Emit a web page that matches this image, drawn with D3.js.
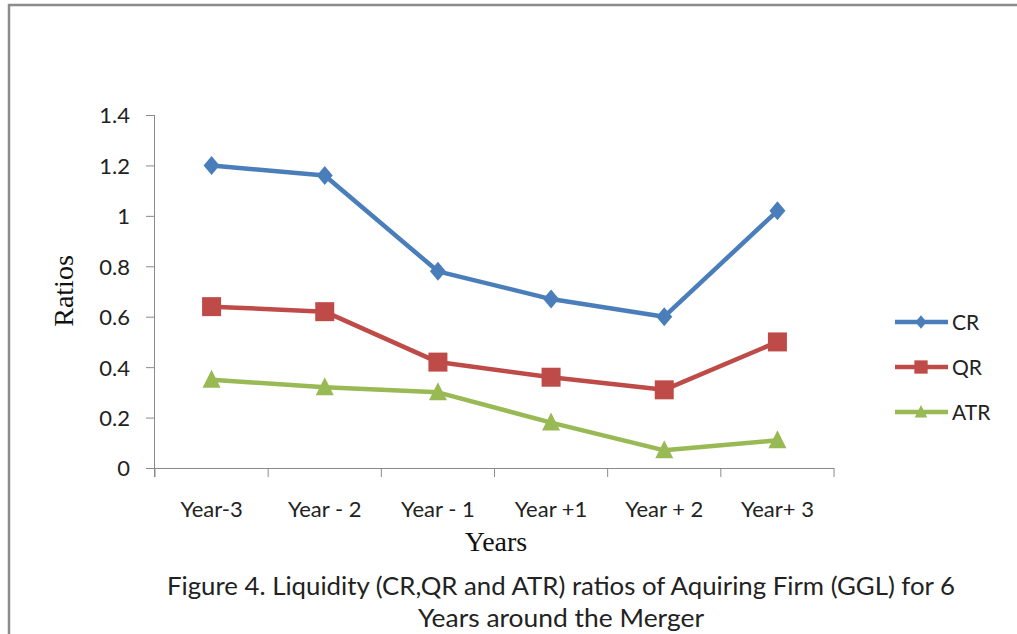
<!DOCTYPE html>
<html>
<head>
<meta charset="utf-8">
<script src="https://cdn.jsdelivr.net/npm/d3@7"></script>
<style>
body { margin: 0; background: #fff; }
svg { display: block; }
</style>
</head>
<body>
<div id="chart"></div>
<script>
var years = ["Year-3", "Year - 2", "Year - 1", "Year +1", "Year + 2", "Year+ 3"];
var cr = [1.2, 1.16, 0.78, 0.67, 0.60, 1.02];
var qr = [0.64, 0.62, 0.42, 0.36, 0.31, 0.50];
var atr = [0.35, 0.32, 0.30, 0.18, 0.07, 0.11];
var yTicks = [0, 0.2, 0.4, 0.6, 0.8, 1, 1.2, 1.4];

// marker shapes (half width, half height)
function marker(kind, s) {
  var p = d3.path();
  if (kind == "diamond") {
    p.moveTo(0, -9.5 * s); p.lineTo(8 * s, 0); p.lineTo(0, 9.5 * s); p.lineTo(-8 * s, 0);
  } else if (kind == "square") {
    p.rect(-9.5 * s, -9.5 * s, 19 * s, 19 * s);
  } else {
    p.moveTo(0, -10 * s); p.lineTo(9 * s, 8 * s); p.lineTo(-9 * s, 8 * s);
  }
  p.closePath();
  return p.toString();
}

var series = [
  {name: "CR", values: cr, color: "#4a7ebb", shape: "diamond"},
  {name: "QR", values: qr, color: "#be4b48", shape: "square"},
  {name: "ATR", values: atr, color: "#98b954", shape: "triangle"}
];

var W = 1017, H = 634;
var margin = {top: 115, left: 155},
    width = 679, height = 353;
var font = "Lato, 'Liberation Sans', sans-serif";

var svg = d3.select("#chart").append("svg")
            .attr("width", W)
            .attr("height", H);

// outer frame
svg.append("rect")
   .attr("x", 9).attr("y", 5)
   .attr("width", W + 10).attr("height", H + 10)
   .attr("fill", "none")
   .attr("stroke", "#8c8c8c")
   .attr("stroke-width", 2.5);

var chart = svg.append("g")
               .attr("transform", "translate(" + margin.left + "," + margin.top + ")");

var x = d3.scaleBand().domain(years).range([0, width]);
var y = d3.scaleLinear().domain([0, 1.4]).range([height, 0]);

var yAxis = d3.axisLeft(y).tickValues(yTicks).tickSize(9).tickPadding(16)
              .tickFormat(function(d) { return String(+d.toFixed(1)); });
var gy = chart.append("g").call(yAxis);
gy.select(".domain").attr("d", "M-0.5,0V" + (height + 9));
gy.selectAll("line, path").attr("stroke", "#8a8a8a");
gy.selectAll("text").attr("dy", "0.36em")
  .style("font-family", font).style("font-size", "22px").attr("fill", "#222");

var xAxis = d3.axisBottom(x).tickSize(0).tickPadding(33);
var gx = chart.append("g").attr("transform", "translate(0," + height + ")").call(xAxis);
gx.select(".domain").attr("d", "M0,0.5H" + width).attr("stroke", "#8a8a8a");
gx.selectAll("text").style("font-family", font).style("font-size", "22px").attr("fill", "#222");
// tick marks between categories
gx.selectAll(".sep").data(d3.range(years.length + 1)).enter()
  .append("line").attr("class", "sep")
  .attr("x1", function(i) { return i * x.bandwidth(); })
  .attr("x2", function(i) { return i * x.bandwidth(); })
  .attr("y1", 0).attr("y2", 9)
  .attr("stroke", "#8a8a8a");

var line = d3.line()
             .x(function(d, i) { return x(years[i]) + x.bandwidth() / 2; })
             .y(function(d) { return y(d); });

series.forEach(function(s) {
  chart.append("path")
       .datum(s.values)
       .attr("d", line)
       .attr("fill", "none")
       .attr("stroke", s.color)
       .attr("stroke-width", 4.5)
       .attr("stroke-linejoin", "round");
  chart.selectAll(".m-" + s.name).data(s.values).enter()
       .append("path")
       .attr("transform", function(d, i) {
         return "translate(" + (x(years[i]) + x.bandwidth() / 2) + "," + y(d) + ")";
       })
       .attr("d", marker(s.shape, 1))
       .attr("fill", s.color);
});

// axis titles
svg.append("text")
   .attr("transform", "translate(73,291) rotate(-90)")
   .attr("text-anchor", "middle")
   .style("font-family", "'Liberation Serif', serif")
   .style("font-size", "28px")
   .attr("fill", "#111")
   .text("Ratios");

svg.append("text")
   .attr("x", 496).attr("y", 551)
   .attr("text-anchor", "middle")
   .style("font-family", "'Liberation Serif', serif")
   .style("font-size", "28px")
   .attr("fill", "#111")
   .text("Years");

// legend
var legend = svg.append("g").attr("transform", "translate(895,322)");
series.forEach(function(s, i) {
  var g = legend.append("g").attr("transform", "translate(0," + (i * 45) + ")");
  g.append("line").attr("x1", 0).attr("x2", 53).attr("y1", 0).attr("y2", 0)
   .attr("stroke", s.color).attr("stroke-width", 4.5);
  g.append("path").attr("transform", "translate(26,0)")
   .attr("d", marker(s.shape, 0.7))
   .attr("fill", s.color);
  g.append("text").attr("x", 57).attr("y", 0).attr("dy", "0.36em")
   .style("font-family", font)
   .style("font-size", "21px")
   .attr("fill", "#222")
   .text(s.name);
});

// caption
var cap = svg.append("text")
   .attr("text-anchor", "middle")
   .style("font-family", font)
   .style("font-size", "25px")
   .attr("fill", "#222");
cap.append("tspan").attr("x", 561).attr("y", 595)
   .attr("textLength", 788).attr("lengthAdjust", "spacingAndGlyphs")
   .text("Figure 4. Liquidity (CR,QR and ATR) ratios of Aquiring Firm (GGL) for 6");
cap.append("tspan").attr("x", 561).attr("y", 627)
   .attr("textLength", 286).attr("lengthAdjust", "spacingAndGlyphs")
   .text("Years around the Merger");
</script>
</body>
</html>
